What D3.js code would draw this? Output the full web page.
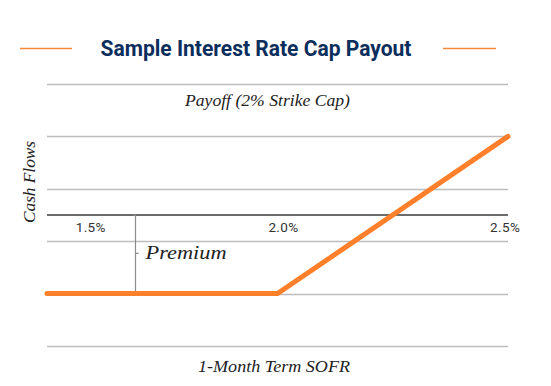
<!DOCTYPE html>
<html>
<head>
<meta charset="utf-8">
<script src="https://cdn.jsdelivr.net/npm/d3@7"></script>
<style>
  html, body { margin: 0; padding: 0; background: #fff; }
  svg { display: block; }
  .serif { font-family: "Liberation Serif", "DejaVu Serif", serif; font-style: italic; fill: #222; }
</style>
</head>
<body>
<div id="chart"></div>
<script>
// payoff of a 2% strike cap, cash flows in premium units
const rates = [1.5, 2.0, 2.5];
const cashFlows = [-1.5, -1.5, 1.5];
const gridValues = [2.5, 1.5, 0.5, -0.5, -1.5, -2.5];
const tickLabels = ["1.5%", "2.0%", "2.5%"];
const tickLabelAt = [1.595, 2.013, 2.494];
const premiumAt = 1.69;
const premium = -1.5;

(() => {
  const width = 551;
  const height = 386;
  const svg = d3.select("#chart").append("svg").attr("width", width).attr("height", height);

  const x = d3.scaleLinear().domain([1.5, 2.5]).range([47, 508]);
  const y = d3.scaleLinear().domain([-2.5, 2.5]).range([346, 84]);

  // title with the orange rules either side
  svg.append("text")
    .attr("x", 100.5).attr("y", 56)
    .attr("textLength", 311).attr("lengthAdjust", "spacingAndGlyphs")
    .style("font-family", "Roboto, 'Liberation Sans', sans-serif")
    .style("font-weight", 700).style("font-size", "22.5px").style("fill", "#0c2e5c")
    .text("Sample Interest Rate Cap Payout");
  [[20, 72], [443, 496]].forEach(([a, b]) => {
    svg.append("line").attr("x1", a).attr("x2", b).attr("y1", 48.5).attr("y2", 48.5)
      .attr("stroke", "#f5883a").attr("stroke-width", 1.6);
  });

  // grid
  svg.append("g").selectAll("line").data(gridValues).enter().append("line")
    .attr("x1", x.range()[0]).attr("x2", x.range()[1])
    .attr("y1", (d) => Math.round(y(d)) + 0.5).attr("y2", (d) => Math.round(y(d)) + 0.5)
    .attr("stroke", "#bdbdbd").attr("stroke-width", 1.4);

  svg.append("line")
    .attr("x1", x.range()[0]).attr("x2", x.range()[1])
    .attr("y1", y(0)).attr("y2", y(0))
    .attr("stroke", "#3a3a3a").attr("stroke-width", 1.5);

  // tick labels
  svg.append("g").selectAll("text").data(tickLabels).enter().append("text")
    .attr("x", (_d, i) => x(tickLabelAt[i])).attr("y", y(0) + 17)
    .attr("text-anchor", "middle")
    .style("font-family", "Roboto, 'Liberation Sans', sans-serif")
    .style("font-size", "13.5px").style("letter-spacing", "0.4px").style("fill", "#333")
    .text((d) => d);

  // premium bracket
  const px = Math.round(x(premiumAt)) + 0.5;
  const top = y(0);
  const bottom = y(premium) - 2;
  const mid = (top + bottom) / 2;
  svg.append("path")
    .attr("d", `M${px - 3},${top}H${px}V${bottom}H${px - 3}M${px},${mid}H${px + 3}`)
    .attr("fill", "none").attr("stroke", "#8c8c8c").attr("stroke-width", 1.2);
  svg.append("text").attr("class", "serif")
    .attr("x", px + 10).attr("y", mid + 6)
    .attr("textLength", 81).attr("lengthAdjust", "spacingAndGlyphs")
    .style("font-size", "19px").text("Premium");

  // payoff line
  const line = d3.line().x((d) => x(d[0])).y((d) => y(d[1]));
  svg.append("path")
    .datum(rates.map((r, i) => [r, cashFlows[i]]))
    .attr("d", line)
    .attr("fill", "none").attr("stroke", "#ff7f2a").attr("stroke-width", 5)
    .attr("stroke-linecap", "round").attr("stroke-linejoin", "miter");

  // titles
  svg.append("text").attr("class", "serif")
    .attr("x", 185).attr("y", 106)
    .attr("textLength", 165).attr("lengthAdjust", "spacingAndGlyphs")
    .style("font-size", "16px").text("Payoff (2% Strike Cap)");
  svg.append("text").attr("class", "serif")
    .attr("x", 198).attr("y", 372)
    .attr("textLength", 152).attr("lengthAdjust", "spacingAndGlyphs")
    .style("font-size", "16px").text("1-Month Term SOFR");
  svg.append("text").attr("class", "serif")
    .attr("transform", "translate(34.5,223) rotate(-90)")
    .attr("textLength", 82).attr("lengthAdjust", "spacingAndGlyphs")
    .style("font-size", "16px").text("Cash Flows");
})();
</script>
</body>
</html>
